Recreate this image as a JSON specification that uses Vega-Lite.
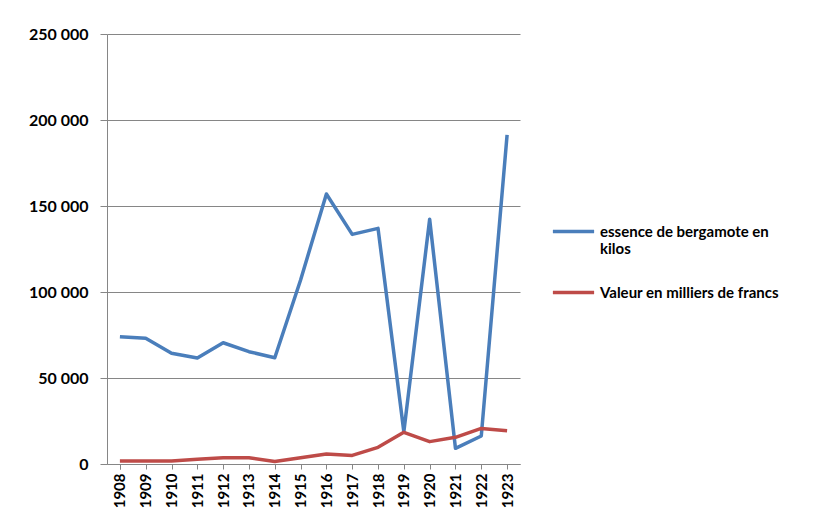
{
  "$schema": "https://vega.github.io/schema/vega-lite/v6.json",
  "autosize": "none",
  "width": 413,
  "height": 430,
  "padding": {"left": 107, "top": 34, "right": 308, "bottom": 63},
  "background": "white",
  "config": {
    "locale": {"number": {"decimal": ",", "thousands": "\u00a0", "grouping": [3], "currency": ["", ""]}},
    "view": {"stroke": null},
    "font": "Lato"
  },
  "data": {
    "values": [
      {"year": "1908", "series": "essence de bergamote en kilos", "v": 74000},
      {"year": "1909", "series": "essence de bergamote en kilos", "v": 73100},
      {"year": "1910", "series": "essence de bergamote en kilos", "v": 64400},
      {"year": "1911", "series": "essence de bergamote en kilos", "v": 61600},
      {"year": "1912", "series": "essence de bergamote en kilos", "v": 70500},
      {"year": "1913", "series": "essence de bergamote en kilos", "v": 65300},
      {"year": "1914", "series": "essence de bergamote en kilos", "v": 61800},
      {"year": "1915", "series": "essence de bergamote en kilos", "v": 107000},
      {"year": "1916", "series": "essence de bergamote en kilos", "v": 157000},
      {"year": "1917", "series": "essence de bergamote en kilos", "v": 133500},
      {"year": "1918", "series": "essence de bergamote en kilos", "v": 137000},
      {"year": "1919", "series": "essence de bergamote en kilos", "v": 18800},
      {"year": "1920", "series": "essence de bergamote en kilos", "v": 142300},
      {"year": "1921", "series": "essence de bergamote en kilos", "v": 9100},
      {"year": "1922", "series": "essence de bergamote en kilos", "v": 16300},
      {"year": "1923", "series": "essence de bergamote en kilos", "v": 191300},
      {"year": "1908", "series": "Valeur en milliers de francs", "v": 1800},
      {"year": "1909", "series": "Valeur en milliers de francs", "v": 1800},
      {"year": "1910", "series": "Valeur en milliers de francs", "v": 1800},
      {"year": "1911", "series": "Valeur en milliers de francs", "v": 2700},
      {"year": "1912", "series": "Valeur en milliers de francs", "v": 3600},
      {"year": "1913", "series": "Valeur en milliers de francs", "v": 3600},
      {"year": "1914", "series": "Valeur en milliers de francs", "v": 1500},
      {"year": "1915", "series": "Valeur en milliers de francs", "v": 3600},
      {"year": "1916", "series": "Valeur en milliers de francs", "v": 5800},
      {"year": "1917", "series": "Valeur en milliers de francs", "v": 5000},
      {"year": "1918", "series": "Valeur en milliers de francs", "v": 9700},
      {"year": "1919", "series": "Valeur en milliers de francs", "v": 18400},
      {"year": "1920", "series": "Valeur en milliers de francs", "v": 13000},
      {"year": "1921", "series": "Valeur en milliers de francs", "v": 15500},
      {"year": "1922", "series": "Valeur en milliers de francs", "v": 20700},
      {"year": "1923", "series": "Valeur en milliers de francs", "v": 19400}
    ]
  },
  "mark": {"type": "line", "strokeWidth": 3.5, "strokeJoin": "round"},
  "encoding": {
    "x": {
      "field": "year", "type": "ordinal", "title": null,
      "scale": {"type": "point", "padding": 0.5},
      "axis": {
        "labelAngle": 270, "labelAlign": "right", "labelBaseline": "middle",
        "labelFont": "Lato", "labelFontWeight": "bold", "labelFontSize": 15, "labelColor": "black",
        "labelPadding": 4,
        "domainColor": "#868686", "tickColor": "#868686", "tickSize": 5, "tickBand": "extent",
        "grid": false
      }
    },
    "y": {
      "field": "v", "type": "quantitative", "title": null,
      "scale": {"domain": [0, 250000]},
      "axis": {
        "values": [0, 50000, 100000, 150000, 200000, 250000],
        "format": ",d", "labelFont": "Lato", "labelFontWeight": "bold", "labelFontSize": 16, "labelColor": "black",
        "labelPadding": 12,
        "domain": true, "domainColor": "#868686", "tickColor": "#868686", "tickSize": 7,
        "grid": true, "gridColor": "#868686", "gridWidth": 1
      }
    },
    "color": {
      "field": "series", "type": "nominal", "title": null,
      "scale": {"domain": ["essence de bergamote en kilos", "Valeur en milliers de francs"], "range": ["#4a7ebb", "#be4b48"]},
      "legend": {
        "orient": "none", "legendX": 444, "legendY": 175,
        "symbolType": "stroke", "symbolSize": 1700, "symbolStrokeWidth": 3.5,
        "labelFont": "Lato", "labelFontWeight": "bold", "labelFontSize": 15, "labelColor": "black",
        "labelLimit": 300, "labelOffset": 4, "rowPadding": 13,
        "labelExpr": "datum.label == 'essence de bergamote en kilos' ? ['essence de bergamote en', 'kilos'] : datum.label"
      }
    }
  }
}
